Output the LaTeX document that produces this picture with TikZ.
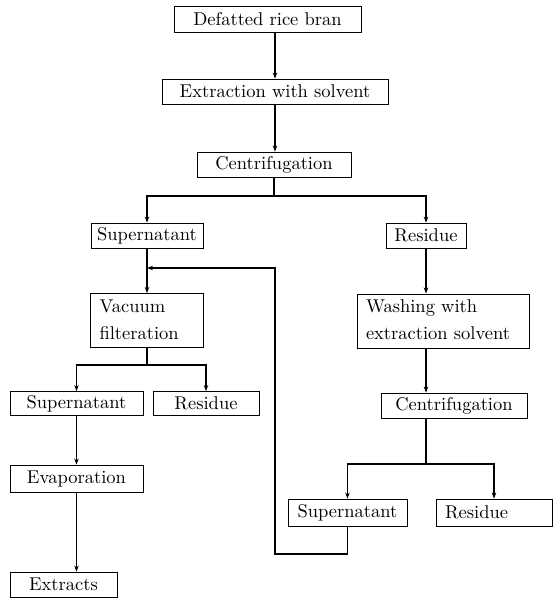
\documentclass[tikz,border=0pt]{standalone}
\usepackage{graphicx}
\usetikzlibrary{arrows.meta}
\newcommand{\T}[1]{\scalebox{1.85}{\fontsize{10}{12}\selectfont #1}}
\newcommand{\TT}[2]{\scalebox{1.85}{\fontsize{10}{12.2}\selectfont\renewcommand\arraystretch{1.2}\begin{tabular}{@{}l@{}}#1\\#2\end{tabular}}}
\begin{document}
\begin{tikzpicture}[x=1pt,y=-1pt,
  box/.style={draw,line width=0.8pt,inner sep=0pt},
  lbox/.style={box,align=left,inner xsep=9pt},
  arr/.style={line width=1.3pt,-{Stealth[length=6pt,width=4.5pt]}},
  ln/.style={line width=1.3pt}]
\useasboundingbox (0,0) rectangle (553,598);
\node[box,minimum width=187pt,minimum height=26pt] (top) at (267.5,19) {\T{Defatted rice bran}};
\node[box,minimum width=226pt,minimum height=25pt] (extr) at (275,91.5) {\T{Extraction with solvent}};
\node[box,minimum width=154pt,minimum height=25pt] (cent1) at (274,164.5) {\T{Centrifugation}};
\node[box,minimum width=112pt,minimum height=25pt] (supL1) at (147,235.5) {\T{Supernatant}};
\node[box,minimum width=80pt,minimum height=25pt] (resR1) at (426,235.5) {\T{Residue}};
\node[lbox,text width=95pt,minimum height=53pt] (vac) at (147,320.5) {\TT{Vacuum}{filteration}};
\node[lbox,text width=154pt,minimum height=52pt] (wash) at (443,321) {\TT{Washing with}{extraction solvent}};
\node[box,minimum width=133pt,minimum height=24pt] (supL2) at (76.5,403.5) {\T{Supernatant}};
\node[box,minimum width=106pt,minimum height=24pt] (resL2) at (206,403.5) {\T{Residue}};
\node[box,minimum width=146pt,minimum height=25pt] (cent2) at (454,405.5) {\T{Centrifugation}};
\node[box,minimum width=133pt,minimum height=27pt] (evap) at (76.5,478.5) {\T{Evaporation}};
\node[box,minimum width=107pt,minimum height=25pt] (extracts) at (63.5,584.5) {\T{Extracts}};
\node[box,minimum width=119pt,minimum height=27pt] (supR2) at (347.5,512.5) {\T{Supernatant}};
\node[lbox,text width=98pt,minimum height=27pt] (resR2) at (494,512.5) {\T{Residue}};
% connectors
\draw[arr] (top.south -| extr.north) -- (extr.north);
\draw[arr] (extr.south) -- (extr.south |- cent1.north);
\coordinate (b1) at (274,196);
\draw[ln] (cent1.south) -- (b1);
\draw[arr] (b1) -| (supL1.north);
\draw[arr] (b1) -| (resR1.north);
\draw[arr] (supL1.south) -- (vac.north);
\coordinate (j) at (147,268);
\coordinate (fb) at (275,554);
\draw[arr] (supR2.south) |- (fb) |- (j);
\coordinate (b2) at (147,365);
\draw[ln] (vac.south) -- (b2);
\draw[arr] (b2) -| (supL2.north);
\draw[arr] (b2) -| (resL2.north);
\draw[arr] (supL2.south) -- (evap.north);
\draw[arr] (evap.south) -- (evap.south |- extracts.north);
\draw[arr] (resR1.south) -- (resR1.south |- wash.north);
\draw[arr] (resR1.south |- wash.south) -- (resR1.south |- cent2.north);
\coordinate (b3) at (426,464);
\draw[ln] (resR1.south |- cent2.south) -- (b3);
\draw[arr] (b3) -| (supR2.north);
\draw[arr] (b3) -| (resR2.north);
\end{tikzpicture}
\end{document}
